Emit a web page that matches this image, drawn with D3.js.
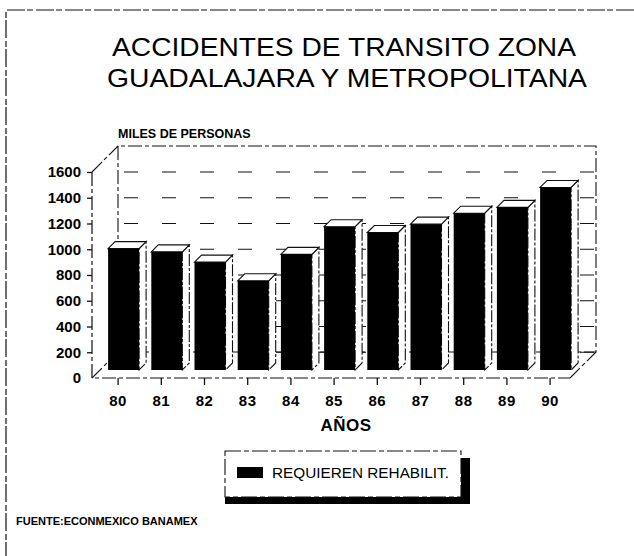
<!DOCTYPE html>
<html lang="es">
<head>
<meta charset="UTF-8">
<title>Accidentes de transito</title>
<script src="https://d3js.org/d3.v7.min.js"></script>
<style>
  body { margin: 0; background: #fff; }
  svg { display: block; font-family: "Liberation Sans", Arial, Helvetica, sans-serif; }
</style>
</head>
<body>
<div id="chart"></div>
<script>
// data (thousands of people)
const years = ["80", "81", "82", "83", "84", "85", "86", "87", "88", "89", "90"];
const values = [1005, 980, 900, 755, 960, 1175, 1130, 1195, 1280, 1325, 1480];
const yTicks = [0, 200, 400, 600, 800, 1000, 1200, 1400, 1600];
const seriesName = "REQUIEREN REHABILIT.";

const width = 634, height = 556;
const svg = d3.select("#chart").append("svg")
    .attr("width", width)
    .attr("height", height);

// 3d offsets
const depth = { dx: 26, dy: -26 };   // back wall
const barShift = { dx: 6, dy: -8 };  // bars sit a bit behind the floor edge
const barSide = { dx: 7, dy: -7 };   // bar thickness
const barW = 31;

const x = d3.scalePoint().domain(years).range([117.6, 549.6]);
const y = d3.scaleLinear().domain([0, 1600]).range([378, 172]);

const axisX = 92, floorRight = 570;

// page frame
svg.append("path")
    .attr("d", `M634,10H6V556`)
    .attr("fill", "none")
    .attr("stroke", "#111")
    .attr("stroke-width", 1.2)
    .attr("stroke-dasharray", "18,3,6,2");

// title
const title = svg.append("g").attr("font-size", 25).attr("fill", "#000");
title.append("text").attr("x", 112).attr("y", 56)
    .attr("textLength", 464).attr("lengthAdjust", "spacingAndGlyphs")
    .text("ACCIDENTES DE TRANSITO ZONA");
title.append("text").attr("x", 107).attr("y", 87)
    .attr("textLength", 480).attr("lengthAdjust", "spacingAndGlyphs")
    .text("GUADALAJARA Y METROPOLITANA");

svg.append("text")
    .attr("x", 118).attr("y", 138)
    .attr("font-size", 12.5).attr("font-weight", "bold")
    .text("MILES DE PERSONAS");

// back wall + floor (behind bars)
const back = svg.append("g")
    .attr("fill", "none")
    .attr("stroke", "#111")
    .attr("stroke-width", 1.1)
    .attr("stroke-dasharray", "14,3,4,3");

const bx0 = axisX + depth.dx, bx1 = floorRight + depth.dx;
const by0 = y(1600) + depth.dy, by1 = y(0) + depth.dy;

back.append("path").attr("d", `M${bx0},${by1}V${by0}H${bx1}V${by1}H${bx0}`);
back.append("path").attr("d", `M${axisX},${y(1600)}L${bx0},${by0}`);
back.append("path").attr("d", `M${axisX},${y(0)}L${bx0},${by1}`);
back.append("path").attr("d", `M${floorRight},${y(0)}L${bx1},${by1}`);

// grid lines on the back wall
back.selectAll(".grid")
    .data(yTicks.filter(d => d > 0))
    .join("line")
    .attr("class", "grid")
    .attr("x1", bx0 + 6).attr("x2", bx1)
    .attr("y1", d => y(d)).attr("y2", d => y(d))
    .attr("stroke-width", 1)
    .attr("stroke-dasharray", "14,24");

// bars
const bars = svg.append("g").selectAll("g")
    .data(years.map((yr, i) => ({ yr, v: values[i] })))
    .join("g");

const bx = d => x(d.yr) + barShift.dx - barW / 2;
const bottom = y(0) + barShift.dy;

// side face
bars.append("path")
    .attr("d", d => {
        const x1 = bx(d) + barW, t = y(d.v);
        return `M${x1},${t}L${x1 + barSide.dx},${t + barSide.dy}V${bottom + barSide.dy}L${x1},${bottom}Z`;
    })
    .attr("fill", "#fff")
    .attr("stroke", "#111")
    .attr("stroke-width", 1.1)
    .attr("stroke-dasharray", "12,2,3,2");

// top face
bars.append("path")
    .attr("d", d => {
        const x0 = bx(d), t = y(d.v);
        return `M${x0},${t}L${x0 + barSide.dx},${t + barSide.dy}H${x0 + barW + barSide.dx}L${x0 + barW},${t}Z`;
    })
    .attr("fill", "#fff")
    .attr("stroke", "#111")
    .attr("stroke-width", 1.1);

// front face
bars.append("rect")
    .attr("x", bx)
    .attr("y", d => y(d.v))
    .attr("width", barW)
    .attr("height", d => bottom - y(d.v))
    .attr("fill", "#000");

// front floor edge and left axis
const front = svg.append("g").attr("stroke", "#111").attr("stroke-width", 1.2).attr("fill", "none");
front.append("path")
    .attr("d", `M${axisX},${y(1600)}V${y(0)}H${floorRight}`)
    .attr("stroke-dasharray", "14,3,4,3");

// y axis
const yAxis = svg.append("g")
    .attr("transform", `translate(${axisX},0)`)
    .call(d3.axisLeft(y).tickValues(yTicks).tickFormat(d3.format("d")).tickSize(5).tickPadding(6));
yAxis.select(".domain").remove();
yAxis.selectAll("line").attr("stroke", "#111").attr("stroke-width", 1.3);
yAxis.selectAll("text")
    .attr("font-family", "Liberation Sans, Arial, sans-serif")
    .attr("font-size", 15).attr("font-weight", "bold").attr("fill", "#000");
yAxis.select(".tick:first-of-type line").remove();

// x axis
const xAxis = svg.append("g")
    .attr("transform", `translate(0,${y(0)})`)
    .call(d3.axisBottom(x).tickSize(7).tickPadding(10));
xAxis.select(".domain").remove();
xAxis.selectAll("line").attr("stroke", "#111").attr("stroke-width", 1.3);
xAxis.selectAll("text")
    .attr("font-family", "Liberation Sans, Arial, sans-serif")
    .attr("font-size", 15).attr("font-weight", "bold").attr("fill", "#000")
    .attr("letter-spacing", 0.5);

svg.append("text")
    .attr("x", 346).attr("y", 431)
    .attr("text-anchor", "middle")
    .attr("font-size", 17).attr("font-weight", "bold")
    .attr("letter-spacing", 0.5)
    .text("AÑOS");

// legend
const lg = svg.append("g");
lg.append("rect").attr("x", 225).attr("y", 458).attr("width", 245).attr("height", 46).attr("fill", "#000");
lg.append("rect").attr("x", 225).attr("y", 451).attr("width", 236).attr("height", 46)
    .attr("fill", "#fff").attr("stroke", "#111").attr("stroke-width", 1.1)
    .attr("stroke-dasharray", "16,3,5,3");
lg.append("rect").attr("x", 237).attr("y", 467).attr("width", 26).attr("height", 11).attr("fill", "#000");
lg.append("text").attr("x", 272).attr("y", 478)
    .attr("font-size", 14.5)
    .attr("textLength", 177).attr("lengthAdjust", "spacingAndGlyphs")
    .text(seriesName);

svg.append("text")
    .attr("x", 16).attr("y", 525)
    .attr("font-size", 11).attr("font-weight", "bold")
    .text("FUENTE:ECONMEXICO BANAMEX");
</script>
</body>
</html>
